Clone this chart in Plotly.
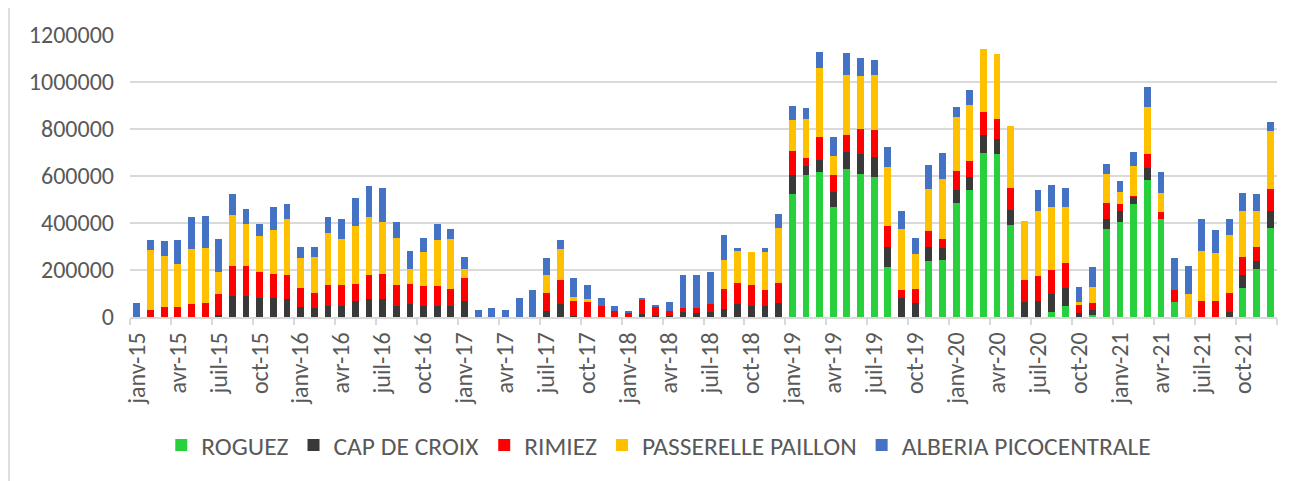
import plotly.graph_objects as go

months = ["janv", "févr", "mars", "avr", "mai", "juin", "juil", "août", "sept", "oct", "nov", "déc"]
years = ["15", "16", "17", "18", "19", "20", "21"]
categories = [f"{m}-{y}" for y in years for m in months]

roguez = [0]*48 + [522000, 603000, 616000, 468000, 631000, 610000, 594000, 211000, 0, 0,
                   238000, 244000, 485000, 539000, 697000, 692000, 392000, 0, 0, 21000,
                   48000, 0, 10000, 374000, 403000, 480000, 583000, 419000, 64000, 0,
                   0, 0, 0, 125000, 206000, 380000]

cap_de_croix = [0, 0, 0, 0, 0, 0, 10000, 91000, 91000, 81000, 81000, 75000,
                42000, 37000, 48000, 48000, 70000, 75000, 75000, 48000, 54000, 48000, 48000, 48000,
                70000, 0, 0, 0, 0, 0, 25000, 54000, 4000, 0, 0, 0,
                0, 14000, 4000, 4000, 21000, 16000, 21000, 34000, 54000, 48000, 48000, 58000,
                81000, 40000, 54000, 66000, 71000, 82000, 86000, 88000, 82000, 58000, 61000, 49000,
                54000, 55000, 77000, 65000, 65000, 64000, 70000, 75000, 77000, 16000, 21000, 44000,
                48000, 33000, 50000, 0, 0, 0, 0, 0, 21000, 54000, 32000, 71000]

rimiez = [0, 31000, 42000, 42000, 54000, 60000, 87000, 126000, 126000, 109000, 104000, 104000,
          83000, 65000, 87000, 87000, 72000, 104000, 110000, 87000, 88000, 82000, 82000, 73000,
          98000, 0, 0, 0, 0, 0, 77000, 103000, 62000, 65000, 48000, 25000,
          16000, 61000, 38000, 21000, 16000, 21000, 33000, 87000, 92000, 87000, 65000, 88000,
          105000, 33000, 94000, 71000, 71000, 109000, 115000, 88000, 31000, 63000, 65000, 38000,
          82000, 69000, 99000, 87000, 94000, 94000, 103000, 103000, 103000, 33000, 27000, 66000,
          28000, 3000, 60000, 28000, 50000, 0, 70000, 70000, 81000, 77000, 61000, 94000]

passerelle_paillon = [0, 253000, 219000, 185000, 234000, 234000, 93000, 219000, 180000, 153000, 185000, 236000,
                      125000, 153000, 224000, 197000, 244000, 245000, 218000, 203000, 64000, 148000, 196000, 211000,
                      38000, 0, 0, 0, 0, 0, 77000, 131000, 21000, 10000, 0, 0,
                      0, 0, 0, 0, 0, 0, 0, 120000, 133000, 143000, 163000, 234000,
                      132000, 165000, 294000, 82000, 257000, 223000, 234000, 250000, 261000, 145000, 180000, 257000,
                      229000, 241000, 267000, 274000, 261000, 251000, 278000, 268000, 240000, 15000, 71000, 125000,
                      54000, 127000, 201000, 81000, 0, 97000, 213000, 202000, 246000, 196000, 152000, 246000]

alberia_picocentrale = [60000, 42000, 61000, 99000, 137000, 136000, 142000, 88000, 61000, 54000, 98000, 65000,
                        50000, 44000, 65000, 87000, 120000, 132000, 148000, 65000, 76000, 60000, 71000, 44000,
                        49000, 31000, 37000, 31000, 81000, 114000, 71000, 38000, 77000, 60000, 33000, 23000,
                        10000, 6000, 11000, 40000, 142000, 142000, 136000, 107000, 16000, 0, 18000, 60000,
                        60000, 48000, 70000, 81000, 92000, 77000, 65000, 88000, 76000, 72000, 104000, 108000,
                        44000, 60000, 0, 0, 0, 0, 88000, 94000, 83000, 65000, 82000, 43000,
                        44000, 60000, 83000, 88000, 136000, 120000, 136000, 98000, 71000, 77000, 71000, 38000]

series = [
    ("ROGUEZ", roguez, "#27D03C"),
    ("CAP DE CROIX", cap_de_croix, "#393939"),
    ("RIMIEZ", rimiez, "#FF0000"),
    ("PASSERELLE PAILLON", passerelle_paillon, "#FFC000"),
    ("ALBERIA PICOCENTRALE", alberia_picocentrale, "#4472C4"),
]

x = list(range(len(categories)))
tick_idx = list(range(0, len(categories), 3))
tick_text = [categories[i] for i in tick_idx]

fig = go.Figure()
for name, vals, color in series:
    fig.add_trace(go.Bar(x=x, y=vals, name=name, marker=dict(color=color, line=dict(width=0))))

font_family = "Carlito, Calibri, Lato, sans-serif"
fig.update_layout(
    barmode="stack",
    bargap=0.5,
    width=1298,
    height=473,
    margin=dict(l=122, r=29, t=27, b=164),
    plot_bgcolor="white",
    paper_bgcolor="white",
    font=dict(family=font_family, color="#595959", size=24),
    showlegend=True,
    legend=dict(orientation="h", x=0.461, xanchor="center", y=-0.455, yanchor="middle",
                font=dict(size=25.5, color="#595959"), itemwidth=30, traceorder="normal"),
    xaxis=dict(
        range=[-0.5, len(categories) - 0.5],
        tickmode="array", tickvals=tick_idx, ticktext=tick_text, tickangle=-90,
        ticks="", showgrid=False, showline=True, linecolor="#D9D9D9", linewidth=1.5,
        tickfont=dict(size=24, color="#595959"), ticklabelstandoff=4,
        minor=dict(tickmode="linear", tick0=-0.5, dtick=3, ticks="outside", ticklen=6,
                   tickcolor="#D9D9D9", tickwidth=1.5, showgrid=False),
        zeroline=False,
    ),
    yaxis=dict(
        range=[0, 1200000], tickmode="linear", tick0=0, dtick=200000, tickformat="d",
        showgrid=True, gridcolor="#D9D9D9", gridwidth=1.5, zeroline=False,
        showline=False, ticks="", tickfont=dict(size=24, color="#595959"), ticklabelstandoff=15,
    ),
)
fig.add_shape(type="line", xref="paper", yref="paper", x0=-0.1055, x1=-0.1055, y0=-0.6, y1=1.15,
              line=dict(color="#D4D4D4", width=1.5))
fig.write_html("out.html")
